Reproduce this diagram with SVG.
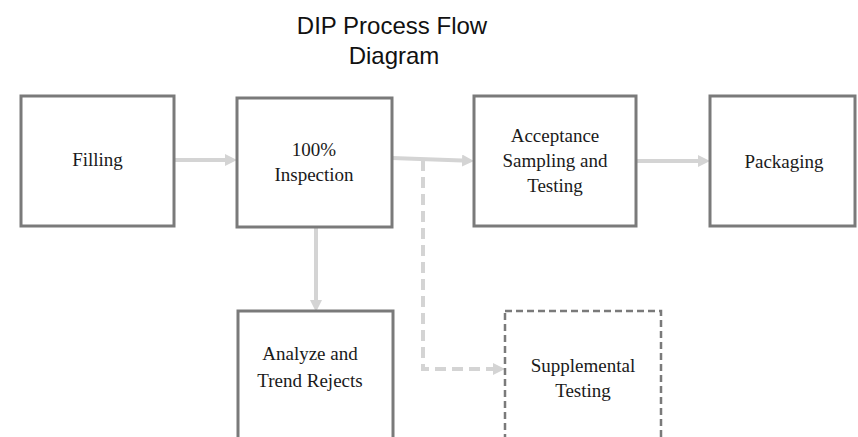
<svg xmlns="http://www.w3.org/2000/svg" width="858" height="437" viewBox="0 0 858 437">
  <style>
    .box { fill: #ffffff; stroke: #7a7a7a; stroke-width: 3; }
    .box.dashed { stroke-dasharray: 7 4; stroke-width: 2.5; }
    .label { font-family: "Liberation Serif", "Times New Roman", serif; font-size: 19px; fill: #1a1a1a; text-anchor: middle; }
    .title { font-family: "Liberation Sans", Arial, sans-serif; font-size: 24px; fill: #111111; text-anchor: middle; }
    .flow { fill: none; stroke: #d4d4d4; stroke-width: 4; }
    .flow.dashed { stroke-dasharray: 11 6; }
  </style>
  <defs>
    <marker id="arrow" viewBox="0 0 12 12" refX="0" refY="6" markerWidth="12" markerHeight="12" markerUnits="userSpaceOnUse" orient="auto">
      <path d="M0,0 L12,6 L0,12 z" fill="#d4d4d4"/>
    </marker>
  </defs>

  <rect width="858" height="437" fill="#ffffff"/>

  <g id="title">
    <text class="title" x="392" y="34">DIP Process Flow</text>
    <text class="title" x="394" y="64">Diagram</text>
  </g>

  <g id="connectors">
    <path class="flow" d="M174,160 H225" marker-end="url(#arrow)"/>
    <path class="flow" d="M392,158 L462,160.5" marker-end="url(#arrow)"/>
    <path class="flow" d="M636,161 H698" marker-end="url(#arrow)"/>
    <path class="flow" d="M316,227 V300" marker-end="url(#arrow)"/>
    <path class="flow dashed" d="M423,160 V369 H493" marker-end="url(#arrow)"/>
  </g>

  <g id="filling">
    <rect class="box" x="21" y="96" width="153" height="130"/>
    <text class="label" x="97.5" y="166">Filling</text>
  </g>

  <g id="inspection">
    <rect class="box" x="237" y="98" width="155" height="129"/>
    <text class="label" x="314" y="156">100%</text>
    <text class="label" x="314" y="181">Inspection</text>
  </g>

  <g id="acceptance">
    <rect class="box" x="474" y="96" width="162" height="130"/>
    <text class="label" x="555" y="142">Acceptance</text>
    <text class="label" x="555" y="167">Sampling and</text>
    <text class="label" x="555" y="192">Testing</text>
  </g>

  <g id="packaging">
    <rect class="box" x="710" y="96" width="145" height="130"/>
    <text class="label" x="784" y="168">Packaging</text>
  </g>

  <g id="analyze">
    <rect class="box" x="238" y="311" width="155" height="140"/>
    <text class="label" x="310" y="360">Analyze and</text>
    <text class="label" x="310" y="387">Trend Rejects</text>
  </g>

  <g id="supplemental">
    <rect class="box dashed" x="505" y="311" width="156" height="140"/>
    <text class="label" x="583" y="372">Supplemental</text>
    <text class="label" x="583" y="397">Testing</text>
  </g>
</svg>
